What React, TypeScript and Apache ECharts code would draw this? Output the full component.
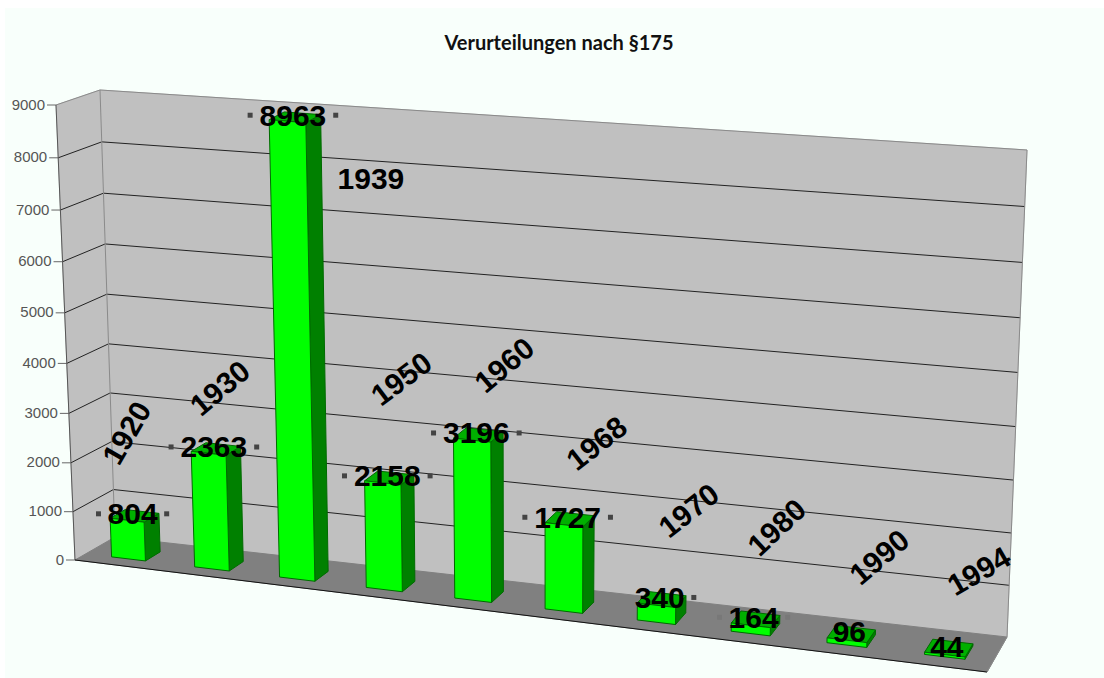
import React, { useEffect, useRef } from "react";
import * as echarts from "echarts";

const chartTitle = "Verurteilungen nach §175";
const years = ["1920", "1930", "1939", "1950", "1960", "1968", "1970", "1980", "1990", "1994"];
const counts = [804, 2363, 8963, 2158, 3196, 1727, 340, 164, 96, 44];
const gridTicks = [0, 1000, 2000, 3000, 4000, 5000, 6000, 7000, 8000, 9000];
// key squares drawn beside each value label: 0 none, 1 right only, 2 both, 3 both (faint, over the floor)
const keyMarks = [2, 2, 2, 2, 2, 2, 1, 3, 0, 0];
// hand-placed year annotations relative to the value label of their column, with their rotation in degrees
const yearOffsets = [
  [-6, -81], [6, -59], [78, 63], [14, -97], [28, -68], [29, -74], [29, -87], [23, -90], [30, -75], [32, -75],
];
const yearAngles = [60, 40, 0, 37, 40, 38, 38, 43, 40, 30];

// Screen corners of the 3D box [front/back][left/right], floor and ceiling.
const floorFL = [75, 560], floorFR = [987, 672], floorBL = [115, 537], floorBR = [1007, 637];
const topFL = [56, 105], topFR = [1003, 190], topBL = [100, 90], topBR = [1027, 150];

const GRID = { left: 100, top: 100, width: 900, height: 450 };
const maxValue = 9000;
const slots = counts.length;
const barShare = 0.41;
const slotCentre = 0.52;
const depthFront = 0.27;
const depthBack = 0.65;

const mix = (a: number[], b: number[], t: number) => [a[0] + (b[0] - a[0]) * t, a[1] + (b[1] - a[1]) * t];
const warp = (u: number) => u + 0.1 * u * (u - 1);
const warpHeight = (h: number) => h + 0.05 * h * (h - 1);

// Projects plot-area pixels (from the axes) plus a depth onto the tilted box.
function project(px: number[], depth: number) {
  const u = warp((px[0] - GRID.left) / GRID.width);
  const h = warpHeight((GRID.top + GRID.height - px[1]) / GRID.height);
  const bottom = mix(mix(floorFL, floorFR, u), mix(floorBL, floorBR, u), depth);
  const top = mix(mix(topFL, topFR, u), mix(topBL, topBR, u), depth);
  return mix(bottom, top, h);
}

const WALL = "#c0c0c0";
const EDGE = "#8a8a8a";
const INK = "#000000";

function renderRoom(_: any, api: any) {
  const at = (slot: number, value: number, d: number) => project(api.coord([slot, value]), d);
  const poly = (points: number[][], fill: string, stroke?: string) => ({
    type: "polygon",
    shape: { points },
    style: { fill, stroke: stroke || fill, lineWidth: 1 },
  });
  const line = (a: number[], b: number[], stroke: string, w = 1) => ({
    type: "line",
    shape: { x1: a[0], y1: a[1], x2: b[0], y2: b[1] },
    style: { stroke, lineWidth: w },
  });
  const children: any[] = [
    poly([at(0, 0, 0), at(0, maxValue, 0), at(0, maxValue, 1), at(0, 0, 1)], WALL),
    poly([at(0, 0, 1), at(0, maxValue, 1), at(slots, maxValue, 1), at(slots, 0, 1)], WALL),
    poly([at(0, 0, 0), at(0, 0, 1), at(slots, 0, 1), at(slots, 0, 0)], "#808080"),
  ];
  gridTicks.forEach((t) => {
    if (t > 0 && t < maxValue) {
      children.push(line(at(0, t, 0), at(0, t, 1), "#222"));
      children.push(line(at(0, t, 1), at(slots, t, 1), "#222"));
    }
    const p = at(0, t, 0);
    children.push(line([p[0] - 9, p[1]], p, "#666"));
    children.push({
      type: "text",
      x: p[0] - 11,
      y: p[1] - 1,
      style: {
        text: String(t),
        align: "right",
        verticalAlign: "middle",
        font: '15px "Liberation Sans"',
        fill: "#555555",
      },
    });
  });
  children.push(line(at(0, maxValue, 0), at(0, maxValue, 1), EDGE));
  children.push(line(at(0, maxValue, 1), at(slots, maxValue, 1), EDGE));
  children.push(line(at(0, maxValue, 1), at(0, 0, 1), EDGE));
  children.push(line(at(slots, maxValue, 1), at(slots, 0, 1), EDGE));
  children.push(line(at(0, maxValue, 0), at(0, 0, 0), "#555"));
  children.push(line(at(0, 0, 0), at(slots, 0, 0), "#111"));
  children.push(line(at(slots, 0, 0), at(slots, 0, 1), EDGE));
  return { type: "group", children };
}

function renderColumn(params: any, api: any) {
  const slot = api.value(0);
  const value = api.value(1);
  const half = barShare / 2;
  const at = (dx: number, v: number, d: number) => project(api.coord([slot + slotCentre + dx, v]), d);
  const poly = (points: number[][], fill: string) => ({
    type: "polygon",
    shape: { points },
    style: { fill, stroke: "#006a00", lineWidth: 1 },
  });
  return {
    type: "group",
    children: [
      poly([at(half, 0, depthFront), at(half, 0, depthBack), at(half, value, depthBack), at(half, value, depthFront)], "#008000"),
      poly([at(-half, value, depthFront), at(half, value, depthFront), at(half, value, depthBack), at(-half, value, depthBack)], "#00b000"),
      poly([at(-half, 0, depthFront), at(half, 0, depthFront), at(half, value, depthFront), at(-half, value, depthFront)], "#00ff00"),
    ],
  };
}

function renderLabels(params: any, api: any) {
  const i = params.dataIndex;
  const slot = api.value(0);
  const value = api.value(1);
  const c = project(api.coord([slot + slotCentre, value]), (depthFront + depthBack) / 2);
  const text = String(value);
  const cx = c[0] - 2;
  const cy = c[1] - 2;
  const spread = text.length * 8.7 + 8;
  const square = (x: number, fill: string) => ({
    type: "rect",
    shape: { x: x - 2.5, y: cy - 2.5, width: 5, height: 5 },
    style: { fill },
  });
  const children: any[] = [];
  const mark = keyMarks[i];
  const fill = mark === 3 ? "#787878" : "#444444";
  if (mark >= 2) children.push(square(cx - spread, fill));
  if (mark >= 1) children.push(square(cx + spread, fill));
  children.push({
    type: "text",
    x: cx,
    y: cy,
    style: {
      text,
      align: "center",
      verticalAlign: "middle",
      font: 'bold 30px "Liberation Sans"',
      fill: INK,
    },
  });
  const off = yearOffsets[i];
  children.push({
    type: "text",
    x: cx + off[0],
    y: cy + off[1],
    rotation: (yearAngles[i] * Math.PI) / 180,
    style: {
      text: years[i],
      align: "center",
      verticalAlign: "middle",
      font: 'bold 30px "Liberation Sans"',
      fill: INK,
    },
  });
  return { type: "group", children };
}

export default function App() {
  const ref = useRef<HTMLDivElement>(null);
  useEffect(() => {
    document.body.style.margin = "0";
    document.body.style.background = "#ffffff";
    const chart = echarts.init(ref.current!, null, { renderer: "svg" });
    const rows = counts.map((v, i) => [i, v]);
    chart.setOption({
      animation: false,
      backgroundColor: "#ffffff",
      title: {
        text: chartTitle,
        left: 554,
        top: 27,
        textAlign: "center",
        textStyle: { fontFamily: "Lato", fontWeight: "bold", fontSize: 20, color: "#111" },
      },
      graphic: [
        {
          type: "rect",
          z: -10,
          silent: true,
          shape: { x: 5, y: 8, width: 1099, height: 670 },
          style: { fill: "#f8fffb" },
        },
      ],
      grid: { left: GRID.left, top: GRID.top, width: GRID.width, height: GRID.height },
      xAxis: { type: "value", min: 0, max: slots, show: false },
      yAxis: { type: "value", min: 0, max: maxValue, interval: 1000, show: false },
      series: [
        { type: "custom", z: 1, silent: true, coordinateSystem: "cartesian2d", data: [[0, 0]], renderItem: renderRoom, clip: false },
        { type: "custom", z: 2, silent: true, coordinateSystem: "cartesian2d", data: rows, renderItem: renderColumn, clip: false },
        { type: "custom", z: 3, silent: true, coordinateSystem: "cartesian2d", data: rows, renderItem: renderLabels, clip: false },
      ],
    });
    return () => chart.dispose();
  }, []);
  return <div ref={ref} style={{ width: 1104, height: 678 }} />;
}
